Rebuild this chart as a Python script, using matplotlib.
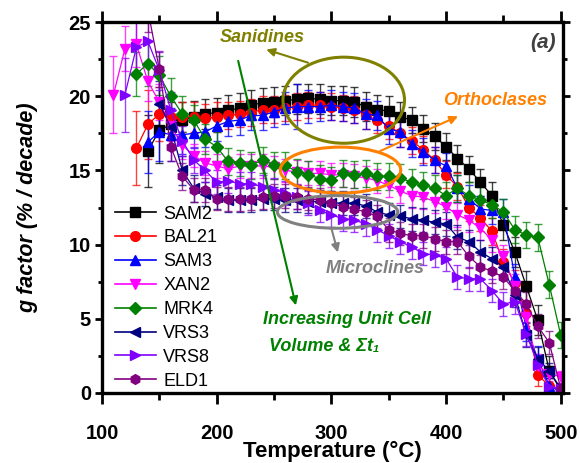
import matplotlib
matplotlib.use('Agg')
import matplotlib.pyplot as plt
from matplotlib.patches import Ellipse
from matplotlib.lines import Line2D
from matplotlib.ticker import MultipleLocator

plt.rcParams['font.family'] = ['Liberation Sans', 'DejaVu Sans']

# temperature steps (°C)
temps = [110, 120, 130, 140, 150, 160, 170, 180, 190, 200, 210, 220, 230, 240,
         250, 260, 270, 280, 290, 300, 310, 320, 330, 340, 350, 360, 370, 380,
         390, 400, 410, 420, 430, 440, 450, 460, 470, 480, 490, 500]

# g factor (% / decade), each series starts at a different temperature
sam2_start = 140
sam2 = [16.3, 17.7, 18.1, 18.4, 18.6, 18.8, 18.9, 19.05, 19.2, 19.4, 19.55, 19.6,
        19.7, 19.8, 19.85, 19.8, 19.7, 19.7, 19.6, 19.3, 19.1, 19.0, 18.6, 18.4,
        17.8, 17.3, 16.6, 15.8, 15.1, 14.2, 13.3, 11.3, 9.5, 7.2, 4.9, 1.5, 0.2]
sam2_err = [2.4, 2.2, 1.5, 1.2, 1.1, 1.0, 1.0, 1.0, 1.0, 1.0, 1.0, 1.0, 1.0, 1.0,
            1.0, 1.0, 1.0, 1.0, 1.0, 1.0, 1.0, 1.0, 1.0, 0.9, 0.9, 0.9, 0.9, 0.9,
            0.9, 0.9, 0.9, 1.0, 1.0, 1.0, 1.0, 1.0, 0.5]

bal21_start = 130
bal21 = [16.5, 18.1, 18.8, 18.6, 18.6, 18.6, 18.5, 18.6, 18.7, 18.8, 18.9, 19.1,
         19.1, 19.2, 19.3, 19.4, 19.4, 19.3, 19.2, 19.1, 18.7, 18.4, 18.0, 17.5,
         17.0, 16.4, 15.7, 14.7, 13.9, 12.5, 11.8, 10.9, 8.8, 7.4, 5.4, 1.2, 0.5, 0.1]
bal21_err = [2.5, 2.3, 1.8, 1.3, 1.0, 1.0, 1.0, 1.0, 0.9, 0.9, 0.9, 0.9, 0.9, 0.9,
             0.9, 0.9, 0.9, 0.9, 0.9, 0.9, 0.9, 0.9, 0.9, 0.9, 0.9, 0.9, 0.9, 0.9,
             0.9, 0.9, 0.9, 0.9, 0.9, 0.9, 0.9, 0.7, 0.5, 0.3]

sam3_start = 140
sam3 = [16.9, 17.6, 17.4, 17.4, 17.5, 17.6, 18.0, 18.3, 18.4, 18.7, 18.7, 18.95,
        19.2, 19.3, 19.3, 19.3, 19.4, 19.3, 19.2, 18.8, 18.7, 17.8, 17.6, 16.8,
        16.25, 15.7, 15.3, 13.8, 13.1, 12.4, 12.3, 12.2, 7.8, 4.4, 2.3, 0.5, 0.1]
sam3_err = [2.1, 2.0, 1.8, 1.3, 1.0, 1.0, 1.0, 1.0, 1.0, 1.0, 1.0, 1.0, 1.1, 1.5,
            1.1, 1.0, 1.0, 1.0, 1.0, 1.0, 1.0, 1.0, 1.0, 0.9, 0.9, 0.9, 0.9, 0.9,
            0.9, 0.9, 0.9, 0.9, 0.9, 0.9, 0.9, 0.5, 0.3]

xan2_start = 110
xan2 = [20.1, 23.2, 23.5, 21.0, 19.6, 18.0, 16.7, 16.0, 15.5, 15.3, 15.1, 15.3,
        15.3, 15.3, 15.2, 15.0, 14.9, 14.8, 14.8, 14.7, 14.7, 14.6, 14.5, 14.3,
        14.0, 13.6, 13.3, 13.2, 12.9, 12.55, 12.0, 11.65, 11.1, 10.3, 9.2, 7.2,
        5.1, 1.8, 1.3, 1.1]
xan2_err = [2.6, 1.5, 1.5, 1.3, 1.2, 1.0, 0.9, 0.8, 0.8, 0.8, 0.8, 0.8, 0.8, 0.8,
            0.8, 0.8, 0.8, 0.8, 0.8, 0.8, 0.8, 0.8, 0.8, 0.8, 0.8, 0.8, 0.8, 0.8,
            0.8, 0.8, 0.8, 0.8, 0.8, 0.8, 0.8, 0.8, 0.8, 0.8, 0.5, 0.4]

mrk4_start = 130
mrk4 = [21.5, 22.2, 21.4, 20.0, 18.8, 18.4, 17.1, 16.6, 15.6, 15.5, 15.35, 15.7,
        15.35, 15.35, 14.9, 14.7, 14.45, 14.35, 14.8, 14.7, 14.8, 14.6, 14.6, 14.5,
        14.2, 14.0, 13.8, 13.3, 13.8, 13.3, 13.0, 12.7, 12.2, 11.0, 10.65, 10.5,
        7.3, 3.9]
mrk4_err = [1.5, 1.5, 1.3, 1.2, 1.2, 1.0, 1.0, 1.0, 0.9, 0.9, 0.9, 0.9, 0.9, 0.9,
            0.9, 0.9, 0.9, 0.9, 0.9, 0.9, 0.9, 0.9, 0.9, 0.9, 0.9, 0.9, 0.9, 0.9,
            0.9, 0.9, 0.9, 0.9, 0.9, 0.9, 0.9, 0.9, 0.9, 0.9]

vrs3_start = 150
vrs3 = [19.5, 17.9, 15.0, 13.8, 13.4, 13.2, 13.0, 13.0, 13.0, 13.1, 13.1,
        13.0, 13.0, 12.9, 12.9, 12.8, 12.8, 12.8, 12.6, 12.2, 12.0, 11.9, 11.75,
        11.65, 11.5, 11.4, 10.5, 10.2, 9.5, 9.05, 8.5, 6.6, 3.9, 2.3, 1.5, 0.3]
vrs3_err = [1.5, 1.2, 1.0, 0.9, 0.8, 0.8, 0.8, 0.8, 0.8, 0.8, 0.8, 0.8, 0.8,
            0.8, 0.8, 0.8, 0.8, 0.8, 0.8, 0.8, 0.8, 0.8, 0.8, 0.8, 0.8, 0.8, 0.8,
            0.8, 0.8, 0.8, 0.8, 0.8, 0.8, 0.8, 0.5, 0.3]

vrs8_start = 120
vrs8 = [20.1, 23.3, 23.7, 21.75, 19.05, 17.0, 15.7, 15.0, 14.2, 14.3, 14.1, 14.1,
        13.9, 13.7, 13.5, 13.2, 12.8, 12.3, 12.0, 11.75, 11.65, 11.4, 11.0, 10.6,
        10.2, 9.85, 9.4, 9.3, 9.05, 7.8, 7.7, 7.7, 6.9, 6.0, 6.15, 4.0, 1.9, 0.4, 0.3]
vrs8_err = [2.5, 1.7, 1.5, 1.3, 1.2, 1.0, 0.9, 0.8, 0.8, 0.8, 0.8, 0.8, 0.8, 0.8,
            0.8, 0.8, 0.8, 0.8, 0.8, 0.8, 0.8, 0.8, 0.8, 0.8, 0.8, 0.8, 0.8, 0.8,
            0.8, 0.8, 0.8, 0.8, 0.8, 0.8, 0.8, 0.8, 0.6, 0.3, 0.2]

eld1_start = 140
eld1 = [25.8, 21.8, 16.6, 14.6, 13.7, 13.7, 13.1, 13.05, 13.05, 13.1, 13.2, 13.3,
        13.3, 13.2, 13.1, 13.0, 12.8, 12.55, 12.4, 12.2, 11.9, 11.0, 10.75, 10.6,
        10.6, 10.4, 10.2, 10.2, 9.2, 8.5, 8.2, 7.8, 6.9, 6.0, 4.5, 3.4, 0.3]
eld1_err = [1.5, 1.2, 1.0, 0.9, 0.8, 0.8, 0.8, 0.8, 0.8, 0.8, 0.8, 0.8, 0.8, 0.8,
            0.8, 0.8, 0.8, 0.8, 0.8, 0.8, 0.8, 0.8, 0.8, 0.8, 0.8, 0.8, 0.8, 0.8,
            0.8, 0.8, 0.8, 0.8, 0.8, 0.8, 0.8, 0.8, 0.3]

series = [
    ('SAM2', sam2_start, sam2, sam2_err, 'black', 's'),
    ('BAL21', bal21_start, bal21, bal21_err, '#ff0000', 'o'),
    ('SAM3', sam3_start, sam3, sam3_err, '#0000ff', '^'),
    ('XAN2', xan2_start, xan2, xan2_err, '#ff00ff', 'v'),
    ('MRK4', mrk4_start, mrk4, mrk4_err, '#008000', 'D'),
    ('VRS3', vrs3_start, vrs3, vrs3_err, '#000080', '<'),
    ('VRS8', vrs8_start, vrs8, vrs8_err, '#8000ff', '>'),
    ('ELD1', eld1_start, eld1, eld1_err, '#800080', 'h'),
]

fig = plt.figure(figsize=(5.8, 4.63), dpi=100)
ax = fig.add_axes([102 / 580, 1 - 393 / 463, (563 - 102) / 580, (393 - 22) / 463])

handles = []
for name, start, g, err, col, mk in series:
    i0 = temps.index(start)
    t = temps[i0:i0 + len(g)]
    ms = 6.5 if mk == 'D' else 7
    line, caps, bars = ax.errorbar(t, g, yerr=err, color=col, marker=mk, ms=ms,
                                   lw=0.9, elinewidth=1, capsize=3, capthick=1)
    for c in caps:
        c.set_alpha(0.75)
    for b in bars:
        b.set_alpha(0.75)
    handles.append(Line2D([], [], color=col, marker=mk, ms=ms, lw=1.2, label=name))

ax.set_xlim(100, 502)
ax.set_ylim(0, 25)
ax.xaxis.set_major_locator(MultipleLocator(100))
ax.xaxis.set_minor_locator(MultipleLocator(50))
ax.yaxis.set_major_locator(MultipleLocator(5))
ax.yaxis.set_minor_locator(MultipleLocator(2.5))
ax.tick_params(which='both', direction='out', width=2, top=True, right=True,
               labeltop=False, labelright=False)
ax.tick_params(axis='x', which='major', length=8, labelsize=14.5, pad=14)
ax.tick_params(axis='x', which='minor', length=5)
ax.tick_params(axis='y', which='major', length=5, labelsize=14.5, pad=3)
ax.tick_params(axis='y', which='minor', length=3)
for lab in ax.get_xticklabels() + ax.get_yticklabels():
    lab.set_fontweight('bold')
for sp in ax.spines.values():
    sp.set_linewidth(2.4)

ax.set_xlabel('Temperature (°C)', fontsize=16, fontweight='bold', labelpad=-1)
ax.set_ylabel('g factor (% / decade)', fontsize=15.5, fontweight='bold',
              fontstyle='italic', labelpad=22)

ax.legend(handles=handles, loc='lower left', bbox_to_anchor=(0.0, -0.025),
          frameon=False, fontsize=13, handlelength=2.3, handletextpad=0.4,
          labelspacing=0.38, borderaxespad=0.3)

# annotations
olive = '#808000'
orange = '#ff8000'
grey = '#808080'
green = '#008000'

ax.add_patch(Ellipse((310.8, 19.73), 106, 5.8, fill=False, ec=olive, lw=2.2, zorder=20))
ax.add_patch(Ellipse((308, 15.02), 105, 3.1, fill=False, ec=orange, lw=2.2, zorder=20))
ax.add_patch(Ellipse((305.4, 12.2), 105, 2.2, fill=False, ec=grey, lw=2.2, zorder=20))

ax.text(240, 23.95, 'Sanidines', color=olive, fontsize=13, fontweight='bold',
        fontstyle='italic', ha='center', va='center', zorder=21)
ax.annotate('', xy=(240.9, 23.2), xytext=(282, 22.2),
            arrowprops=dict(arrowstyle='-|>', color=olive, lw=1.5, mutation_scale=12),
            zorder=21)

ax.text(443, 19.73, 'Orthoclases', color=orange, fontsize=13, fontweight='bold',
        fontstyle='italic', ha='center', va='center', zorder=21)
ax.annotate('', xy=(412.7, 18.72), xytext=(340.3, 16.23),
            arrowprops=dict(arrowstyle='-|>', color=orange, lw=1.5, mutation_scale=12),
            zorder=21)

ax.text(338.6, 8.42, 'Microclines', color=grey, fontsize=13, fontweight='bold',
        fontstyle='italic', ha='center', va='center', zorder=21)
ax.annotate('', xy=(306.3, 9.29), xytext=(299.3, 11.31),
            arrowprops=dict(arrowstyle='-|>', color=grey, lw=1.5, mutation_scale=12),
            zorder=21)

ax.text(313.4, 4.92, 'Increasing Unit Cell', color=green, fontsize=13,
        fontweight='bold', fontstyle='italic', ha='center', va='center', zorder=21)
ax.text(293.4, 3.16, 'Volume & Σt₁', color=green, fontsize=13,
        fontweight='bold', fontstyle='italic', ha='center', va='center', zorder=21)
ax.annotate('', xy=(269.6, 5.72), xytext=(218.2, 22.56),
            arrowprops=dict(arrowstyle='-|>', color=green, lw=1.5, mutation_scale=12),
            zorder=21)

ax.text(484.3, 23.65, '(a)', color='#404040', fontsize=15, fontweight='bold',
        fontstyle='italic', ha='center', va='center', zorder=21)

fig.savefig('out.png', dpi=100)
